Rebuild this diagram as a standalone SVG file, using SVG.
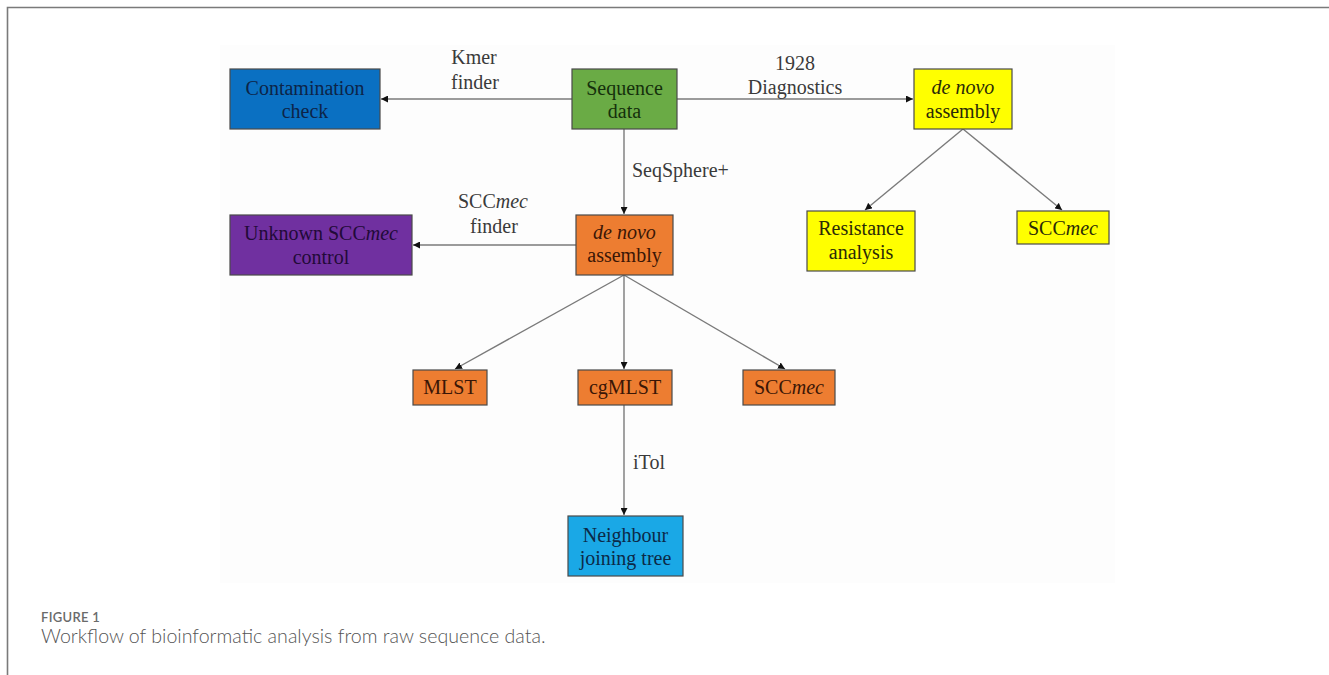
<svg xmlns="http://www.w3.org/2000/svg" width="1329" height="675" viewBox="0 0 1329 675">
<style>
.node rect{stroke:#4a4a4a;stroke-width:1.2}
.t{font-family:"Liberation Serif","Times New Roman",serif;font-size:20px;text-anchor:middle}
.lbl{font-family:"Liberation Serif","Times New Roman",serif;font-size:20px;fill:#3a3a3a}
.edge{stroke:#7a7a7a;stroke-width:1.4;fill:none;marker-end:url(#ah)}
.i{font-style:italic}
</style>
<defs>
<marker id="ah" viewBox="0 0 10 10" refX="10" refY="5" markerWidth="7" markerHeight="7" markerUnits="userSpaceOnUse" orient="auto">
<path d="M0,0 L10,5 L0,10 z" fill="#111"/>
</marker>
</defs>
<rect width="1329" height="675" fill="#fff"/>
<rect x="220" y="45" width="895" height="538" fill="#fdfdfd"/>
<path d="M7.5,675 V7.5 H1329" fill="none" stroke="#7a7a7a" stroke-width="1.6"/>

<g id="connectors">
<line class="edge" x1="572" y1="99" x2="381" y2="99"/>
<line class="edge" x1="677" y1="99" x2="913" y2="99"/>
<line class="edge" x1="624" y1="129" x2="624" y2="214"/>
<line class="edge" x1="576" y1="245" x2="413" y2="245"/>
<line class="edge" x1="624" y1="275" x2="455" y2="369"/>
<line class="edge" x1="624" y1="275" x2="624" y2="369"/>
<line class="edge" x1="624" y1="275" x2="785" y2="369"/>
<line class="edge" x1="963" y1="129" x2="865" y2="210"/>
<line class="edge" x1="963" y1="129" x2="1062" y2="210"/>
<line class="edge" x1="624" y1="405" x2="624" y2="515"/>
<text class="lbl" x="474" y="64" text-anchor="middle">Kmer</text>
<text class="lbl" x="475" y="89" text-anchor="middle">finder</text>
<text class="lbl" x="795" y="70" text-anchor="middle">1928</text>
<text class="lbl" x="795" y="94" text-anchor="middle">Diagnostics</text>
<text class="lbl" x="632" y="177">SeqSphere+</text>
<text class="lbl" x="493" y="208" text-anchor="middle">SCC<tspan class="i">mec</tspan></text>
<text class="lbl" x="494" y="233" text-anchor="middle">finder</text>
<text class="lbl" x="633" y="469">iTol</text>
</g>

<g id="contamination" class="node">
<rect x="230" y="69" width="150" height="60" fill="#0a70c2"/>
<text class="t" x="305" y="95" fill="#0d2448">Contamination</text>
<text class="t" x="305" y="118" fill="#0d2448">check</text>
</g>
<g id="sequence" class="node">
<rect x="572" y="69" width="105" height="60" fill="#6aab45"/>
<text class="t" x="624.5" y="95" fill="#15300c">Sequence</text>
<text class="t" x="624.5" y="118" fill="#15300c">data</text>
</g>
<g id="denovo-yellow" class="node">
<rect x="914" y="69" width="98" height="60" fill="#ffff00"/>
<text class="t i" x="963" y="94" fill="#2a2a08">de novo</text>
<text class="t" x="963" y="118" fill="#2a2a08">assembly</text>
</g>
<g id="unknown" class="node">
<rect x="230" y="215" width="182" height="60" fill="#7030a0"/>
<text class="t" x="321" y="240" fill="#220a38">Unknown SCC<tspan class="i">mec</tspan></text>
<text class="t" x="321" y="264" fill="#220a38">control</text>
</g>
<g id="denovo-orange" class="node">
<rect x="576" y="215" width="97" height="60" fill="#ed7d31"/>
<text class="t i" x="624.5" y="239" fill="#3a1606">de novo</text>
<text class="t" x="624.5" y="262" fill="#3a1606">assembly</text>
</g>
<g id="resistance" class="node">
<rect x="807" y="211" width="108" height="60" fill="#ffff00"/>
<text class="t" x="861" y="235" fill="#2a2a08">Resistance</text>
<text class="t" x="861" y="259" fill="#2a2a08">analysis</text>
</g>
<g id="sccmec-yellow" class="node">
<rect x="1017" y="211" width="92" height="33" fill="#ffff00"/>
<text class="t" x="1063" y="235" fill="#2a2a08">SCC<tspan class="i">mec</tspan></text>
</g>
<g id="mlst" class="node">
<rect x="413" y="370" width="74" height="35" fill="#ed7d31"/>
<text class="t" x="450" y="394" fill="#3a1606">MLST</text>
</g>
<g id="cgmlst" class="node">
<rect x="578" y="370" width="94" height="35" fill="#ed7d31"/>
<text class="t" x="625" y="394" fill="#3a1606">cgMLST</text>
</g>
<g id="sccmec-orange" class="node">
<rect x="743" y="370" width="92" height="35" fill="#ed7d31"/>
<text class="t" x="789" y="394" fill="#3a1606">SCC<tspan class="i">mec</tspan></text>
</g>
<g id="nj" class="node">
<rect x="568" y="516" width="115" height="60" fill="#1aa8e6"/>
<text class="t" x="625.5" y="542" fill="#0c2a48">Neighbour</text>
<text class="t" x="625.5" y="565" fill="#0c2a48">joining tree</text>
</g>

<g id="caption">
<text x="41" y="622" font-family="Lato,'Open Sans',sans-serif" font-size="13" font-weight="600" fill="#6a6a6a" letter-spacing="0.3">FIGURE 1</text>
<text x="41" y="643" font-family="Lato,'Open Sans',sans-serif" font-size="19.6" font-weight="300" fill="#555">Workflow of bioinformatic analysis from raw sequence data.</text>
</g>
</svg>
